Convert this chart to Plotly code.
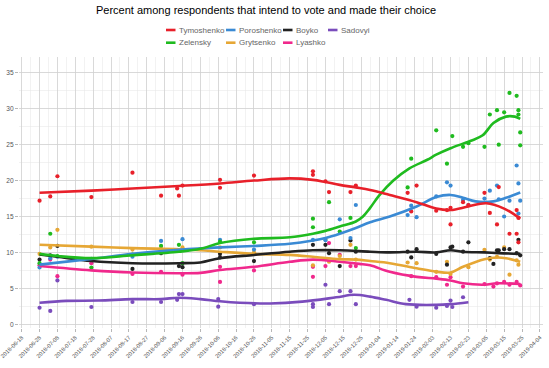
import plotly.graph_objects as go

TITLE = "Percent among respondents that intend to vote and made their choice"
CANDIDATES = ["Tymoshenko", "Poroshenko", "Boyko", "Sadovyi", "Zelensky", "Grytsenko", "Lyashko"]
COLORS = {
    "Tymoshenko": "#e8202a", "Poroshenko": "#3a8ad4", "Boyko": "#222222",
    "Sadovyi": "#7a4cbc", "Zelensky": "#1fbb1f", "Grytsenko": "#e6a735", "Lyashko": "#f0288c",
}

# ---------------- poll results (points) ----------------
tym_dates = ["2018-06-28", "2018-07-04", "2018-07-08", "2018-07-27", "2018-08-19", "2018-09-04",
             "2018-09-13", "2018-09-14", "2018-09-16", "2018-10-07", "2018-10-07", "2018-10-26",
             "2018-11-28", "2018-11-28", "2018-12-05", "2018-12-07", "2018-12-19", "2018-12-22",
             "2019-01-20", "2019-01-22", "2019-01-25", "2019-02-05", "2019-02-11", "2019-02-13",
             "2019-02-13", "2019-02-20", "2019-02-23", "2019-03-04", "2019-03-07", "2019-03-11",
             "2019-03-12", "2019-03-18", "2019-03-22", "2019-03-23", "2019-03-22", "2019-03-23"]
tym_vals = [17.2, 17.8, 20.6, 17.7, 21.1, 17.9, 18.9, 17.9, 19.3, 20.1, 19.0, 20.7,
            21.3, 20.8, 19.9, 18.4, 18.4, 19.3, 18.3, 15.7, 19.3, 15.8, 15.9, 13.9,
            16.2, 17.0, 16.6, 18.3, 15.5, 13.9, 19.1, 12.6, 15.9, 14.8, 12.6, 11.4]

por_dates = ["2018-06-28", "2018-07-04", "2018-07-08", "2018-07-27", "2018-08-19", "2018-09-04",
             "2018-09-16", "2018-10-07", "2018-10-26", "2018-11-28", "2018-12-05", "2018-12-13",
             "2018-12-19", "2018-12-22", "2019-01-20", "2019-01-22", "2019-01-25", "2019-02-05",
             "2019-02-11", "2019-02-13", "2019-02-20", "2019-02-23", "2019-03-04", "2019-03-07",
             "2019-03-11", "2019-03-12", "2019-03-15", "2019-03-18", "2019-03-22", "2019-03-23",
             "2019-03-24", "2019-03-23"]
por_vals = [7.9, 9.2, 9.4, 9.1, 9.4, 11.6, 11.85, 11.75, 10.4, 11.75, 11.7, 14.6,
            12.0, 16.6, 15.2, 16.5, 14.9, 17.8, 19.75, 19.3, 17.3, 16.6, 17.5, 18.6,
            19.3, 17.4, 15.0, 17.2, 22.1, 19.6, 17.2, 15.4]

boy_dates = ["2018-06-28", "2018-07-04", "2018-07-08", "2018-07-27", "2018-08-19", "2018-09-04",
             "2018-09-14", "2018-09-16", "2018-10-07", "2018-10-07", "2018-10-26", "2018-11-28",
             "2018-12-05", "2018-12-07", "2018-12-13", "2018-12-19", "2018-12-22", "2019-01-20",
             "2019-01-22", "2019-01-25", "2019-02-05", "2019-02-11", "2019-02-13", "2019-02-14",
             "2019-02-20", "2019-02-23", "2019-03-07", "2019-03-09", "2019-03-11", "2019-03-12",
             "2019-03-15", "2019-03-18", "2019-03-22", "2019-03-23", "2019-03-24"]
boy_vals = [9.0, 9.6, 10.9, 9.0, 7.7, 9.9, 8.1, 7.95, 9.8, 9.3, 8.8, 11.06,
            11.06, 9.9, 8.1, 11.66, 10.1, 10.1, 9.3, 10.45, 9.8, 8.3, 10.7, 10.8,
            10.1, 11.4, 9.2, 8.4, 10.3, 10.3, 10.45, 10.45, 9.9, 11.75, 9.6]

sad_dates = ["2018-06-28", "2018-07-04", "2018-07-08", "2018-07-27", "2018-08-19", "2018-09-04",
             "2018-09-13", "2018-09-14", "2018-09-16", "2018-10-06", "2018-10-06", "2018-10-26",
             "2018-11-28", "2018-11-28", "2018-12-05", "2018-12-07", "2018-12-13", "2018-12-19",
             "2018-12-22", "2019-01-21", "2019-01-25", "2019-02-05", "2019-02-11", "2019-02-13",
             "2019-02-14", "2019-02-20"]
sad_vals = [2.3, 1.85, 6.1, 2.4, 3.1, 3.1, 3.4, 4.2, 4.2, 2.45, 3.5, 2.8,
            2.8, 2.4, 5.5, 2.8, 4.6, 4.6, 2.8, 3.4, 2.45, 2.3, 2.55, 3.3,
            2.4, 3.76]

zel_dates = ["2018-06-28", "2018-07-04", "2018-07-08", "2018-07-27", "2018-08-19", "2018-09-04",
             "2018-09-14", "2018-09-16", "2018-10-07", "2018-10-26", "2018-11-28", "2018-11-28",
             "2018-12-07", "2018-12-13", "2018-12-19", "2018-12-22", "2019-01-20", "2019-01-22",
             "2019-02-05", "2019-02-11", "2019-02-14", "2019-02-20", "2019-02-23", "2019-03-04",
             "2019-03-07", "2019-03-11", "2019-03-12", "2019-03-15", "2019-03-18", "2019-03-22",
             "2019-03-23", "2019-03-23", "2019-03-24", "2019-03-24"]
zel_vals = [8.5, 12.6, 9.5, 7.9, 9.7, 10.9, 11.06, 8.5, 11.5, 11.4, 14.7, 13.5,
            17.0, 12.9, 14.8, 10.6, 19.05, 23.05, 27.0, 22.35, 26.2, 24.7, 25.2, 24.7,
            29.2, 29.8, 25.0, 29.5, 32.2, 31.8, 29.2, 29.8, 24.9, 26.7]

gry_dates = ["2018-06-28", "2018-07-04", "2018-07-08", "2018-07-27", "2018-08-19", "2018-09-04",
             "2018-09-16", "2018-10-07", "2018-10-26", "2018-11-28", "2018-12-05", "2018-12-07",
             "2018-12-13", "2018-12-19", "2018-12-22", "2019-01-20", "2019-01-25", "2019-02-05",
             "2019-02-11", "2019-02-13", "2019-02-23", "2019-03-04", "2019-03-07", "2019-03-11",
             "2019-03-15", "2019-03-18", "2019-03-22", "2019-03-23"]
gry_vals = [9.8, 10.7, 13.15, 10.8, 10.4, 10.5, 10.7, 10.7, 10.0, 8.2, 11.85, 8.7,
            9.5, 11.06, 9.0, 8.6, 8.5, 7.3, 8.7, 7.0, 7.95, 10.36, 9.0, 9.4,
            10.7, 6.9, 8.9, 8.3]

lya_dates = ["2018-06-28", "2018-07-04", "2018-07-08", "2018-07-27", "2018-08-19", "2018-09-04",
             "2018-09-16", "2018-10-07", "2018-10-07", "2018-10-26", "2018-11-28", "2018-11-28",
             "2018-12-05", "2018-12-07", "2018-12-13", "2018-12-19", "2018-12-22", "2019-01-22",
             "2019-02-05", "2019-02-11", "2019-02-13", "2019-02-20", "2019-03-04", "2019-03-09",
             "2019-03-11", "2019-03-15", "2019-03-18", "2019-03-22", "2019-03-24"]
lya_vals = [8.2, 9.0, 6.7, 8.5, 7.0, 7.3, 6.9, 8.0, 5.9, 7.5, 8.0, 6.6,
            8.1, 11.3, 9.66, 8.1, 8.1, 6.7, 6.55, 5.5, 6.55, 5.25, 5.6, 5.25,
            5.7, 5.9, 5.5, 5.9, 5.4]

# ---------------- smoothed trends ----------------
tym_trend_dates = ["2018-06-28", "2018-07-27", "2018-08-19", "2018-09-14", "2018-10-07", "2018-10-26",
                   "2018-11-15", "2018-11-28", "2018-12-05", "2018-12-13", "2018-12-22", "2018-12-30",
                   "2019-01-10", "2019-01-25", "2019-02-05", "2019-02-13", "2019-02-23", "2019-03-05",
                   "2019-03-15", "2019-03-24"]
tym_trend_vals = [18.3, 18.6, 18.9, 19.25, 19.6, 20.0, 20.3, 20.1, 19.8, 19.4, 19.05, 18.7,
                  18.0, 17.0, 16.1, 15.9, 16.4, 16.85, 16.1, 14.7]

por_trend_dates = ["2018-06-28", "2018-07-27", "2018-08-19", "2018-09-14", "2018-10-07", "2018-10-26",
                   "2018-11-15", "2018-11-28", "2018-12-05", "2018-12-13", "2018-12-22", "2018-12-30",
                   "2019-01-10", "2019-01-25", "2019-02-05", "2019-02-13", "2019-02-20", "2019-02-27",
                   "2019-03-09", "2019-03-16", "2019-03-24"]
por_trend_vals = [8.3, 9.1, 9.8, 10.35, 10.7, 10.9, 11.2, 11.65, 12.0, 12.6, 13.4, 14.2,
                  15.0, 16.4, 17.7, 18.0, 17.6, 17.1, 17.1, 17.6, 18.35]

boy_trend_dates = ["2018-06-28", "2018-07-08", "2018-07-27", "2018-08-19", "2018-09-14", "2018-09-26",
                   "2018-10-07", "2018-10-26", "2018-11-15", "2018-11-28", "2018-12-13", "2018-12-30",
                   "2019-01-10", "2019-01-25", "2019-02-05", "2019-02-13", "2019-02-20", "2019-03-04",
                   "2019-03-12", "2019-03-24"]
boy_trend_vals = [9.7, 9.4, 8.8, 8.5, 8.5, 8.6, 9.2, 9.65, 10.1, 10.3, 10.3, 10.1,
                  10.0, 10.1, 10.0, 10.3, 10.1, 10.0, 9.9, 9.8]

sad_trend_dates = ["2018-06-28", "2018-07-13", "2018-07-31", "2018-08-19", "2018-09-04", "2018-09-14",
                   "2018-09-26", "2018-10-07", "2018-10-18", "2018-11-04", "2018-11-22", "2018-12-11",
                   "2018-12-21", "2018-12-30", "2019-01-08", "2019-01-19", "2019-02-05", "2019-02-13",
                   "2019-02-23"]
sad_trend_vals = [3.0, 3.25, 3.3, 3.5, 3.5, 3.7, 3.5, 3.2, 3.0, 2.9, 3.15, 3.75,
                  4.1, 3.85, 3.4, 2.8, 2.7, 2.8, 3.07]

zel_trend_dates = ["2018-06-28", "2018-07-08", "2018-07-27", "2018-08-19", "2018-09-14", "2018-09-26",
                   "2018-10-07", "2018-10-26", "2018-11-15", "2018-11-28", "2018-12-05", "2018-12-13",
                   "2018-12-22", "2018-12-26", "2018-12-30", "2019-01-04", "2019-01-12", "2019-01-21",
                   "2019-01-31", "2019-02-05", "2019-02-13", "2019-02-24", "2019-03-03", "2019-03-09",
                   "2019-03-16", "2019-03-21", "2019-03-24"]
zel_trend_vals = [9.8, 9.5, 9.2, 9.6, 10.1, 10.5, 11.3, 11.9, 12.1, 12.6, 13.0, 13.6,
                  14.3, 15.0, 16.2, 17.9, 20.0, 21.7, 22.9, 23.6, 24.5, 25.5, 26.3, 28.0,
                  28.9, 28.9, 28.6]

gry_trend_dates = ["2018-06-28", "2018-07-27", "2018-08-19", "2018-09-14", "2018-09-26", "2018-10-07",
                   "2018-10-26", "2018-11-15", "2018-11-28", "2018-12-13", "2018-12-22", "2018-12-30",
                   "2019-01-10", "2019-01-25", "2019-02-05", "2019-02-13", "2019-02-20", "2019-03-04",
                   "2019-03-11", "2019-03-16", "2019-03-24"]
gry_trend_vals = [11.06, 10.8, 10.6, 10.45, 10.3, 10.1, 9.8, 9.66, 9.4, 9.06, 9.0, 8.8,
                  8.5, 7.8, 7.33, 7.2, 8.0, 9.06, 9.3, 9.2, 8.7]

lya_trend_dates = ["2018-06-28", "2018-07-27", "2018-08-19", "2018-09-14", "2018-09-26", "2018-10-07",
                   "2018-10-26", "2018-11-15", "2018-11-28", "2018-12-13", "2018-12-24", "2018-12-30",
                   "2019-01-10", "2019-01-25", "2019-02-05", "2019-02-13", "2019-02-20", "2019-03-04",
                   "2019-03-11", "2019-03-24"]
lya_trend_vals = [8.1, 7.5, 7.2, 7.1, 7.15, 7.55, 8.0, 8.7, 9.0, 8.7, 8.4, 8.2,
                  7.3, 6.6, 6.35, 6.1, 5.7, 5.5, 5.7, 5.6]

POINTS = {
    "Tymoshenko": (tym_dates, tym_vals), "Poroshenko": (por_dates, por_vals),
    "Boyko": (boy_dates, boy_vals), "Sadovyi": (sad_dates, sad_vals),
    "Zelensky": (zel_dates, zel_vals), "Grytsenko": (gry_dates, gry_vals),
    "Lyashko": (lya_dates, lya_vals),
}
TRENDS = {
    "Tymoshenko": (tym_trend_dates, tym_trend_vals), "Poroshenko": (por_trend_dates, por_trend_vals),
    "Boyko": (boy_trend_dates, boy_trend_vals), "Sadovyi": (sad_trend_dates, sad_trend_vals),
    "Zelensky": (zel_trend_dates, zel_trend_vals), "Grytsenko": (gry_trend_dates, gry_trend_vals),
    "Lyashko": (lya_trend_dates, lya_trend_vals),
}

# ---------------- figure ----------------
W, H = 549, 368
ML, MR, MT, MB = 19, 6, 57, 40
PW, PH = W - ML - MR, H - MT - MB


def px_x(p):
    return (p - ML) / PW


def px_y(p):
    return (H - MB - p) / PH


fig = go.Figure()
draw_order = ["Sadovyi", "Lyashko", "Grytsenko", "Boyko", "Poroshenko", "Zelensky", "Tymoshenko"]
for name in draw_order:
    d, v = POINTS[name]
    fig.add_trace(go.Scatter(x=d, y=v, mode="markers", name=name, showlegend=False,
                             marker=dict(color=COLORS[name], size=4.2, line=dict(width=0)),
                             hoverinfo="x+y+name"))
for name in draw_order:
    d, v = TRENDS[name]
    fig.add_trace(go.Scatter(x=d, y=v, mode="lines", name=name, showlegend=False,
                             line=dict(color=COLORS[name], width=2.6, shape="spline", smoothing=1.0),
                             hoverinfo="skip"))

font = "Liberation Sans, Arial, sans-serif"
annotations = [dict(text=TITLE, x=px_x(266), y=px_y(9.5), xref="paper", yref="paper",
                    xanchor="center", yanchor="middle", showarrow=False,
                    font=dict(family=font, size=11, color="#000000"))]
shapes = []
legend_pos = [("Tymoshenko", 166, 30), ("Poroshenko", 226, 30), ("Boyko", 283, 30),
              ("Sadovyi", 328, 30), ("Zelensky", 166, 42.7), ("Grytsenko", 226, 42.7),
              ("Lyashko", 283, 42.7)]
for name, kx, ky in legend_pos:
    shapes.append(dict(type="line", xref="paper", yref="paper",
                       x0=px_x(kx), x1=px_x(kx + 9.5), y0=px_y(ky), y1=px_y(ky),
                       line=dict(color=COLORS[name], width=2.6)))
    annotations.append(dict(text=name, x=px_x(kx + 10.5), y=px_y(ky), xref="paper", yref="paper",
                            xanchor="left", yanchor="middle", showarrow=False,
                            font=dict(family=font, size=8, color="#666666")))

DAY = 86400000
fig.update_layout(
    width=W, height=H, margin=dict(l=ML, r=MR, t=MT, b=MB, pad=0, autoexpand=False),
    paper_bgcolor="white", plot_bgcolor="white",
    font=dict(family=font, size=7, color="#555555"),
    annotations=annotations, shapes=shapes, showlegend=False, hovermode=False,
    xaxis=dict(type="date", range=["2018-06-16 12:00", "2019-04-05 18:00"],
               tick0="2018-06-18", dtick=10 * DAY, tickformat="%Y-%m-%d", tickangle=-45,
               tickfont=dict(size=5.7, color="#555555", family=font), automargin=False,
               ticklabeloverflow="allow",
               showgrid=True, gridcolor="#cfcfcf", gridwidth=0.8,
               minor=dict(dtick=5 * DAY, tick0="2018-06-23", showgrid=True,
                          gridcolor="#e6e6e6", gridwidth=0.5),
               ticks="outside", ticklen=3, tickcolor="#999999", tickwidth=0.7,
               showline=False, zeroline=False, fixedrange=True),
    yaxis=dict(range=[-0.52, 37.2], tick0=0, dtick=5, automargin=False,
               tickfont=dict(size=6.6, color="#555555", family=font),
               showgrid=True, gridcolor="#cfcfcf", gridwidth=0.8,
               minor=dict(dtick=2.5, showgrid=True, gridcolor="#e6e6e6", gridwidth=0.5),
               ticks="outside", ticklen=3, tickcolor="#999999", tickwidth=0.7,
               showline=False, zeroline=False, fixedrange=True),
)

fig.write_html("out.html", config={"displayModeBar": False, "staticPlot": True},
               post_script="document.body.style.margin='0';document.body.style.padding='0';"
                           "document.documentElement.style.overflow='hidden';")
